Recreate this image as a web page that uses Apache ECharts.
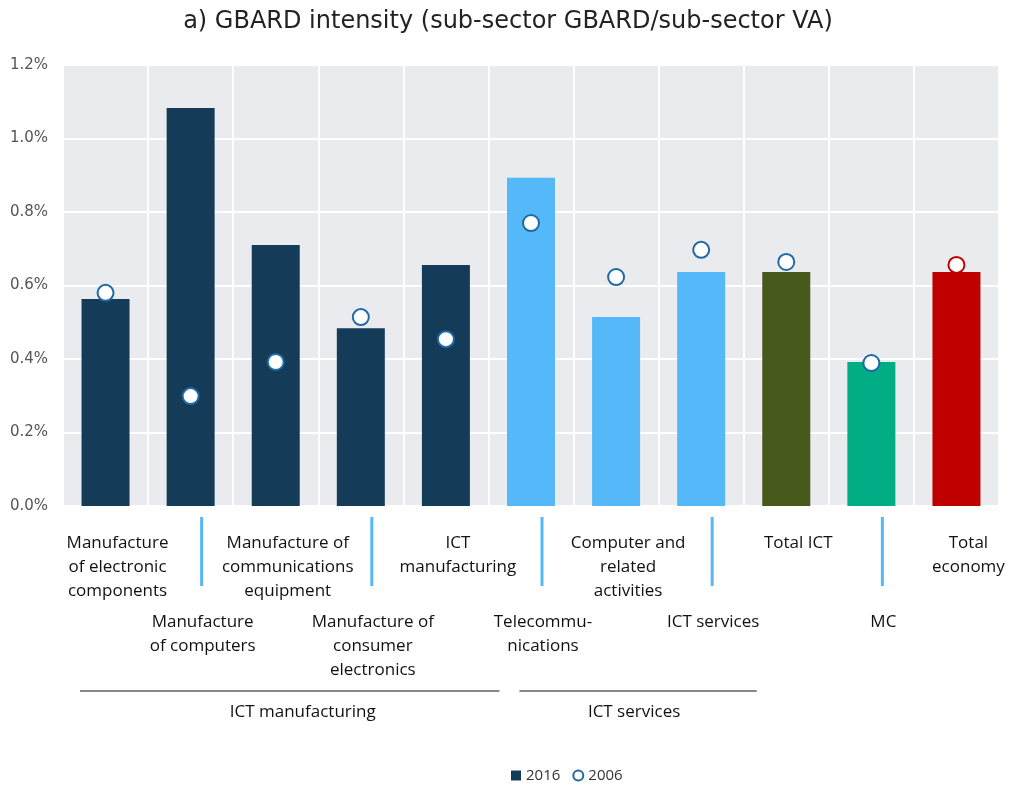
<!DOCTYPE html>
<html>
<head>
<meta charset="utf-8">
<script src="https://cdn.jsdelivr.net/npm/echarts@6/dist/echarts.min.js"></script>
<style>
  html, body { margin: 0; padding: 0; background: #fff; }
  #main { width: 1016px; height: 786px; }
</style>
</head>
<body>
<div id="main"></div>
<script>
// categories (line breaks as in the original figure)
const categories = [
  'Manufacture\nof electronic\ncomponents',
  'Manufacture\nof computers',
  'Manufacture of\ncommunications\nequipment',
  'Manufacture of\nconsumer\nelectronics',
  'ICT\nmanufacturing',
  'Telecommu-\nnications',
  'Computer and\nrelated\nactivities',
  'ICT services',
  'Total ICT',
  'MC',
  'Total\neconomy'
]
// GBARD intensity, %
const values2016 = [0.563, 1.083, 0.710, 0.484, 0.656, 0.893, 0.514, 0.637, 0.637, 0.392, 0.637]
const values2006 = [0.580, 0.299, 0.392, 0.514, 0.454, 0.770, 0.623, 0.697, 0.664, 0.389, 0.656]
const yTicks = [0, 0.2, 0.4, 0.6, 0.8, 1.0, 1.2]
const groups = [
  { name: 'ICT manufacturing', from: 0, to: 4 },
  { name: 'ICT services', from: 5, to: 7 }
]

const barColors = ['#143c59', '#143c59', '#143c59', '#143c59', '#143c59',
  '#55b8f8', '#55b8f8', '#55b8f8', '#475a1b', '#00ad85', '#c00000']
const labelFont = '"Open Sans", "Noto Sans", sans-serif'

let chart = echarts.init(document.getElementById('main'))

const option = {
  animation: false,
  title: {
    text: 'a) GBARD intensity (sub-sector GBARD/sub-sector VA)',
    left: 'center',
    top: 5,
    textStyle: { fontFamily: 'DejaVu Sans', fontWeight: 'normal', fontSize: 24, color: '#222' }
  },
  legend: {
    left: 506,
    top: 763,
    itemGap: 12,
    itemWidth: 10,
    itemHeight: 10,
    textStyle: { fontFamily: labelFont, fontSize: 15, color: '#333' },
    data: [
      { name: '2016', icon: 'rect' },
      { name: '2006', icon: 'circle' }
    ]
  },
  grid: {
    left: 63, right: 17, top: 65, bottom: 280,
    show: true,
    backgroundColor: '#e9ebee',
    borderWidth: 0
  },
  xAxis: {
    type: 'category',
    data: categories,
    axisLine: { show: false },
    axisTick: { show: false },
    splitLine: { show: true, lineStyle: { color: '#fff', width: 2 } },
    axisLabel: {
      interval: 0,
      margin: 25,
      padding: [0, 0, 0, 24],
      formatter: function (v, i) {
        return (i % 2 === 1 ? '{gap| }\n' : '') + '{t|' + v + '}'
      },
      rich: {
        t: { fontFamily: labelFont, fontSize: 17, lineHeight: 24, color: '#111', align: 'center' },
        gap: { fontSize: 10, lineHeight: 79 }
      }
    }
  },
  yAxis: {
    type: 'value',
    min: yTicks[0],
    max: yTicks[yTicks.length - 1],
    interval: 0.2,
    axisLine: { show: false },
    axisTick: { show: false },
    splitLine: { lineStyle: { color: '#fff', width: 2 } },
    axisLabel: {
      margin: 15,
      fontFamily: 'DejaVu Sans',
      fontSize: 15,
      color: '#555',
      formatter: v => v.toFixed(1) + '%'
    }
  },
  series: [
    {
      name: '2016',
      type: 'bar',
      barWidth: 48,
      itemStyle: { color: '#143c59' },
      data: values2016.map((v, i) => ({ value: v, itemStyle: { color: barColors[i] } })),
      z: 2
    },
    {
      name: '2006',
      type: 'scatter',
      symbol: 'circle',
      symbolSize: 16,
      itemStyle: { color: '#fff', borderColor: '#1f6aa6', borderWidth: 2, opacity: 1 },
      data: values2006.map((v, i) => i === values2006.length - 1
        ? { value: v, itemStyle: { borderColor: '#c00000' } }
        : v),
      z: 3
    }
  ]
}

chart.setOption(option)

// leader lines and group brackets, positioned from the category axis
function px(i) { return chart.convertToPixel({ xAxisIndex: 0 }, i) }
const band = px(1) - px(0)
const y0 = chart.convertToPixel({ yAxisIndex: 0 }, 0)
let elements = []
categories.forEach((c, i) => {
  if (i % 2 === 1) {
    const x = px(i) + 11
    elements.push({
      type: 'line',
      shape: { x1: x, y1: y0 + 11, x2: x, y2: y0 + 80 },
      style: { stroke: '#55b8f8', lineWidth: 3 }
    })
  }
})
groups.forEach((g, k) => {
  const x1 = px(g.from) - band / 2 + (k === 0 ? 17 : 31)
  const x2 = px(g.to) + band / 2 + (k === 0 ? 11 : 13)
  elements.push({
    type: 'line',
    shape: { x1: x1, y1: y0 + 185, x2: x2, y2: y0 + 185 },
    style: { stroke: '#888', lineWidth: 2 }
  })
  elements.push({
    type: 'text',
    x: (x1 + x2) / 2 + (k === 0 ? 13 : -4),
    y: y0 + 206,
    style: {
      text: g.name, fontFamily: labelFont, fontSize: 17, fill: '#111',
      align: 'center', verticalAlign: 'middle'
    }
  })
})
chart.setOption({ graphic: elements })
</script>
</body>
</html>
